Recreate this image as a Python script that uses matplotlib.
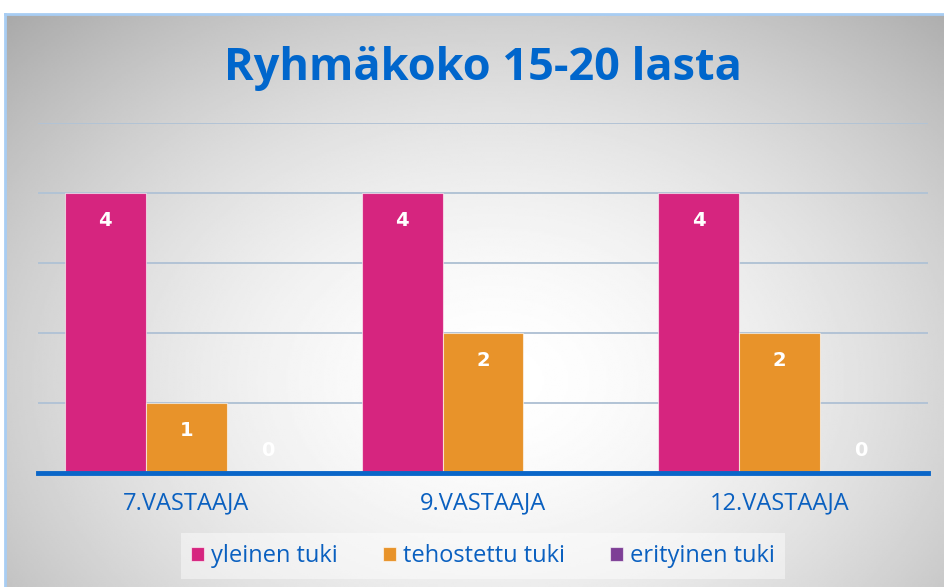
"""
Ryhmäkoko 15-20 lasta - grouped bar chart of support levels per respondent
"""

import numpy as np
import matplotlib.pyplot as plt
from matplotlib.lines import Line2D

plt.rcParams['font.family'] = ['Open Sans', 'DejaVu Sans']

# Data
categories = ['7.VASTAAJA', '9.VASTAAJA', '12.VASTAAJA']
series_names = ['yleinen tuki', 'tehostettu tuki', 'erityinen tuki']
yleinen = [4, 4, 4]
tehostettu = [1, 2, 2]
erityinen = [0, np.nan, 0]  # 9. vastaaja left this one empty
colors = ['#D6257F', '#E8932A', '#7E3F96']

title_color = '#0066CC'
text_color = '#0A60C0'

fig = plt.figure(figsize=(9.45, 5.87), dpi=100)
fig.patch.set_facecolor('white')

# radial grey gradient behind the chart (PowerPoint style frame)
bg = fig.add_axes([5 / 945, 0, 1 - 5 / 945, 1 - 14 / 587], zorder=0)
yy, xx = np.mgrid[0:1:300j, 0:1:500j]
r = np.sqrt(((xx - 0.52) / 0.62) ** 2 + ((yy - 0.64) / 0.75) ** 2)
shade = np.clip(1.0 - 0.25 * r ** 1.7, 0, 1)
bg.imshow(shade, cmap='gray', vmin=0, vmax=1, extent=[0, 1, 0, 1],
          origin='upper', aspect='auto', interpolation='bilinear')
bg.axis('off')

# light blue frame edges (top + left)
fig.add_artist(Line2D([5 / 945, 1], [1 - 14 / 587] * 2, color='#A8CDF3',
                      lw=2, transform=fig.transFigure, zorder=3))
fig.add_artist(Line2D([5 / 945] * 2, [0, 1 - 14 / 587], color='#A8CDF3',
                      lw=2, transform=fig.transFigure, zorder=3))

# main axes
ax = fig.add_axes([38 / 945, 1 - 473 / 587, 890 / 945, 350 / 587], zorder=1)
ax.patch.set_alpha(0)

x = np.arange(len(categories))
w = 0.273
bars = []
for i, (vals, col) in enumerate(zip([yleinen, tehostettu, erityinen], colors)):
    b = ax.bar(x + (i - 1) * w, vals, w, color=col,
               edgecolor=(1, 1, 1, 0.6), linewidth=0.8, label=series_names[i])
    bars.append(b)
    # data labels (white, inside the bar top; zero sits just above the axis)
    for xi, v in zip(x + (i - 1) * w, vals):
        if np.isnan(v):
            continue
        off = -19.5 if v > 0 else 16.5
        ax.annotate(f'{int(v)}', (xi, v), xytext=(0, off),
                    textcoords='offset points', ha='center', va='center',
                    color='white', fontsize=14, fontweight='bold',
                    family='DejaVu Sans')

ax.set_xlim(-0.5, 2.5)
ax.set_ylim(0, 5)
ax.set_yticks(range(0, 6))
ax.yaxis.grid(True, color='#B2C3D5', linewidth=1.4)
ax.set_axisbelow(True)
ax.tick_params(axis='y', length=0, labelleft=False)
ax.set_xticks(x)
ax.set_xticklabels(categories, color=text_color, fontsize=17)
ax.tick_params(axis='x', length=0, pad=13)

for s in ['top', 'left', 'right']:
    ax.spines[s].set_visible(False)
ax.spines['bottom'].set_color('#0A66C8')
ax.spines['bottom'].set_linewidth(3.5)

fig.text(483 / 945, 1 - 80 / 587, 'Ryhmäkoko 15-20 lasta', ha='center',
         va='baseline', fontsize=32.5, fontweight='bold', color=title_color)

fig.legend(bars, series_names, loc='center',
           bbox_to_anchor=(483 / 945, 1 - 556 / 587), ncol=3,
           frameon=True, facecolor='white', framealpha=0.45,
           edgecolor='none', fancybox=False, handlelength=0.55,
           handleheight=0.55, handletextpad=0.3, columnspacing=1.9,
           fontsize=17, borderpad=0.45, labelcolor=text_color)

plt.savefig('out.png', dpi=100)
